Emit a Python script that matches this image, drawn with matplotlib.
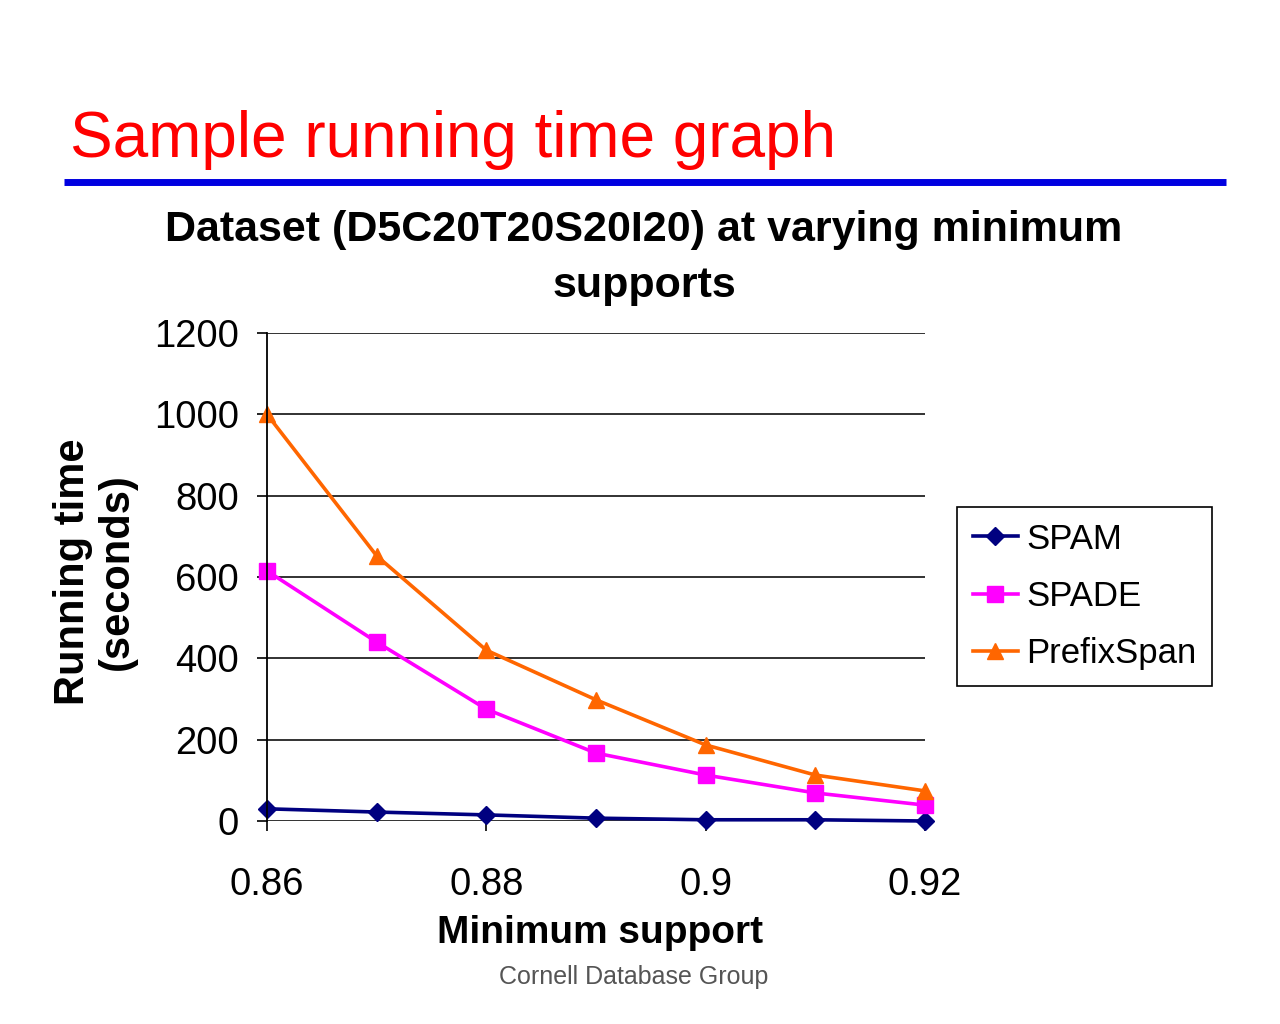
import matplotlib
matplotlib.use("Agg")
import matplotlib.pyplot as plt
from matplotlib.lines import Line2D

plt.rcParams['font.family'] = ['Liberation Sans', 'DejaVu Sans']

min_support = [0.86, 0.87, 0.88, 0.89, 0.90, 0.91, 0.92]
spam = [30, 22, 15, 7, 3, 3, 0]
spade = [615, 440, 275, 167, 113, 69, 39]
prefixspan = [1000, 652, 420, 298, 187, 113, 74]
x_ticks = [0.86, 0.88, 0.90, 0.92]
x_tick_labels = ["0.86", "0.88", "0.9", "0.92"]
y_ticks = [0, 200, 400, 600, 800, 1000, 1200]
series_names = ["SPAM", "SPADE", "PrefixSpan"]

fig = plt.figure(figsize=(12.8, 10.24), dpi=100)
fig.patch.set_facecolor('white')

# Slide title and rule
fig.text(70/1280, 1 - 140/1024, "Sample running time graph", color='#FF0000',
         fontsize=46, ha='left', va='center')
fig.add_artist(Line2D([64/1280, 1226/1280], [1 - 182/1024, 1 - 182/1024],
                      color='#0000E0', linewidth=5, solid_capstyle='butt',
                      transform=fig.transFigure))

ax = fig.add_axes([267/1280, 1 - 821/1024, (925-267)/1280, (821-333)/1024])

l1, = ax.plot(min_support, spam, color='#000080', marker='D', markersize=9, linewidth=2.6)
l2, = ax.plot(min_support, spade, color='#FF00FF', marker='s', markersize=11.5, linewidth=2.6)
l3, = ax.plot(min_support, prefixspan, color='#FF6600', marker='^', markersize=12, linewidth=2.6)

ax.set_xlim(0.86, 0.92)
ax.set_ylim(0, 1200)
ax.set_xticks(x_ticks)
ax.set_xticklabels(x_tick_labels)
ax.set_yticks(y_ticks)
ax.tick_params(axis='both', labelsize=27.5, length=7, width=1.2, color='black')
ax.tick_params(axis='x', pad=26)
ax.tick_params(axis='y', pad=13)
ax.grid(axis='y', color='#222222', linewidth=1.3)
ax.set_axisbelow(True)
for s in ['top', 'right', 'bottom']:
    ax.spines[s].set_visible(False)
ax.spines['left'].set_linewidth(1.3)
for l in [l1, l2, l3]:
    l.set_clip_on(False)

fig.text(600/1280, 1 - 933/1024, "Minimum support", fontsize=28, fontweight='bold',
         ha='center', va='center')
fig.text(95/1280, 1 - 572/1024, "Running time\n(seconds)", fontsize=30, fontweight='bold',
         ha='center', va='center', rotation=90, linespacing=1.15)

fig.text(644/1280, 1 - 258/1024, "Dataset (D5C20T20S20I20) at varying minimum\nsupports",
         fontsize=31, fontweight='bold', ha='center', va='center', linespacing=1.5)

leg = fig.legend([l1, l2, l3], series_names, loc='upper left',
                 bbox_to_anchor=(957/1280, 1 - 507/1024), fontsize=25,
                 frameon=True, fancybox=False, edgecolor='black', framealpha=1,
                 handlelength=1.3, handletextpad=0.25, labelspacing=0.7,
                 borderpad=0.45, borderaxespad=0, markerscale=1.0)
leg.get_frame().set_linewidth(1.2)

fig.text(634/1280, 1 - 977/1024, "Cornell Database Group", color='#555555',
         fontsize=18, ha='center', va='center')

fig.savefig("out.png", dpi=100)
